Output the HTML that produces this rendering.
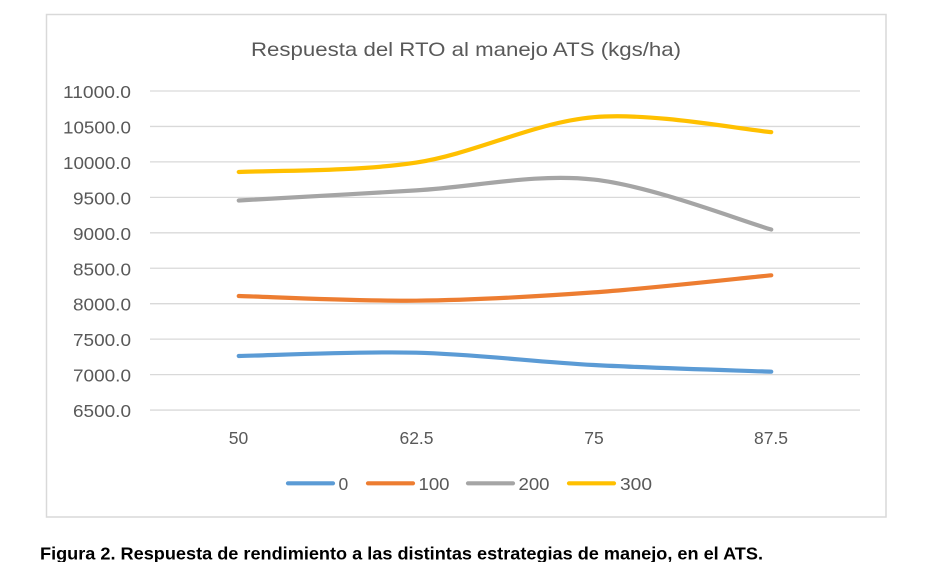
<!DOCTYPE html>
<html>
<head>
<meta charset="utf-8">
<style>
html,body{margin:0;padding:0;background:#fff;}
svg{display:block;}
</style>
</head>
<body>
<svg width="930" height="562" viewBox="0 0 930 562" xmlns="http://www.w3.org/2000/svg">
  <rect x="0" y="0" width="930" height="562" fill="#fff"/>
  <rect x="46.5" y="14.5" width="839.5" height="502.5" fill="#fff" stroke="#D9D9D9" stroke-width="1.5"/>

  <text x="466" y="56" text-anchor="middle" font-family="Liberation Sans, sans-serif" font-size="19.5" fill="#595959" textLength="430" lengthAdjust="spacingAndGlyphs">Respuesta del RTO al manejo ATS (kgs/ha)</text>

  <g stroke="#D9D9D9" stroke-width="1.3">
    <line x1="150" x2="860" y1="91" y2="91"/>
    <line x1="150" x2="860" y1="126.45" y2="126.45"/>
    <line x1="150" x2="860" y1="161.9" y2="161.9"/>
    <line x1="150" x2="860" y1="197.35" y2="197.35"/>
    <line x1="150" x2="860" y1="232.8" y2="232.8"/>
    <line x1="150" x2="860" y1="268.25" y2="268.25"/>
    <line x1="150" x2="860" y1="303.7" y2="303.7"/>
    <line x1="150" x2="860" y1="339.15" y2="339.15"/>
    <line x1="150" x2="860" y1="374.6" y2="374.6"/>
    <line x1="150" x2="860" y1="410.05" y2="410.05"/>
  </g>

  <g font-family="Liberation Sans, sans-serif" font-size="17.5" fill="#595959" text-anchor="end">
    <text x="131" y="98" textLength="68" lengthAdjust="spacingAndGlyphs">11000.0</text>
    <text x="131" y="133.5" textLength="68" lengthAdjust="spacingAndGlyphs">10500.0</text>
    <text x="131" y="169" textLength="68" lengthAdjust="spacingAndGlyphs">10000.0</text>
    <text x="131" y="204.4" textLength="58" lengthAdjust="spacingAndGlyphs">9500.0</text>
    <text x="131" y="239.8" textLength="58" lengthAdjust="spacingAndGlyphs">9000.0</text>
    <text x="131" y="275.3" textLength="58" lengthAdjust="spacingAndGlyphs">8500.0</text>
    <text x="131" y="310.7" textLength="58" lengthAdjust="spacingAndGlyphs">8000.0</text>
    <text x="131" y="346.2" textLength="58" lengthAdjust="spacingAndGlyphs">7500.0</text>
    <text x="131" y="381.6" textLength="58" lengthAdjust="spacingAndGlyphs">7000.0</text>
    <text x="131" y="417" textLength="58" lengthAdjust="spacingAndGlyphs">6500.0</text>
  </g>

  <g font-family="Liberation Sans, sans-serif" font-size="17.5" fill="#595959" text-anchor="middle">
    <text x="238.5" y="444">50</text>
    <text x="416.5" y="444">62.5</text>
    <text x="594" y="444">75</text>
    <text x="771" y="444">87.5</text>
  </g>

  <g fill="none" stroke-width="4.2" stroke-linecap="round" stroke-linejoin="round">
    <path stroke="#5B9BD5" d="M238.75,356 C268.33,355.45 357.08,351.2 416.25,352.7 C475.42,354.2 534.58,361.83 593.75,365 C652.92,368.17 741.67,370.58 771.25,371.7"/>
    <path stroke="#ED7D31" d="M238.75,296 C268.33,296.78 357.08,301.3 416.25,300.7 C475.42,300.1 534.58,296.63 593.75,292.4 C652.92,288.17 741.67,278.15 771.25,275.3"/>
    <path stroke="#A5A5A5" d="M238.75,200.5 C268.33,198.82 357.08,193.88 416.25,190.4 C475.42,186.92 534.58,173.08 593.75,179.6 C652.92,186.12 741.67,221.18 771.25,229.5"/>
    <path stroke="#FFC000" d="M238.75,172 C268.33,170.43 357.08,171.73 416.25,162.6 C475.42,153.47 534.58,122.28 593.75,117.2 C652.92,112.12 741.67,129.62 771.25,132.1"/>
  </g>

  <g stroke-width="4.2" stroke-linecap="round">
    <line x1="288" x2="333" y1="483.3" y2="483.3" stroke="#5B9BD5"/>
    <line x1="368" x2="413" y1="483.3" y2="483.3" stroke="#ED7D31"/>
    <line x1="468" x2="513" y1="483.3" y2="483.3" stroke="#A5A5A5"/>
    <line x1="569" x2="614" y1="483.3" y2="483.3" stroke="#FFC000"/>
  </g>
  <g font-family="Liberation Sans, sans-serif" font-size="17.5" fill="#595959">
    <text x="338.5" y="490">0</text>
    <text x="418.5" y="490" textLength="31" lengthAdjust="spacingAndGlyphs">100</text>
    <text x="518.5" y="490" textLength="31" lengthAdjust="spacingAndGlyphs">200</text>
    <text x="620" y="490" textLength="32" lengthAdjust="spacingAndGlyphs">300</text>
  </g>

  <text x="40" y="559.5" font-family="Liberation Sans, sans-serif" font-weight="bold" font-size="17.5" fill="#000" textLength="723" lengthAdjust="spacingAndGlyphs">Figura 2. Respuesta de rendimiento a las distintas estrategias de manejo, en el ATS.</text>
</svg>
</body>
</html>
